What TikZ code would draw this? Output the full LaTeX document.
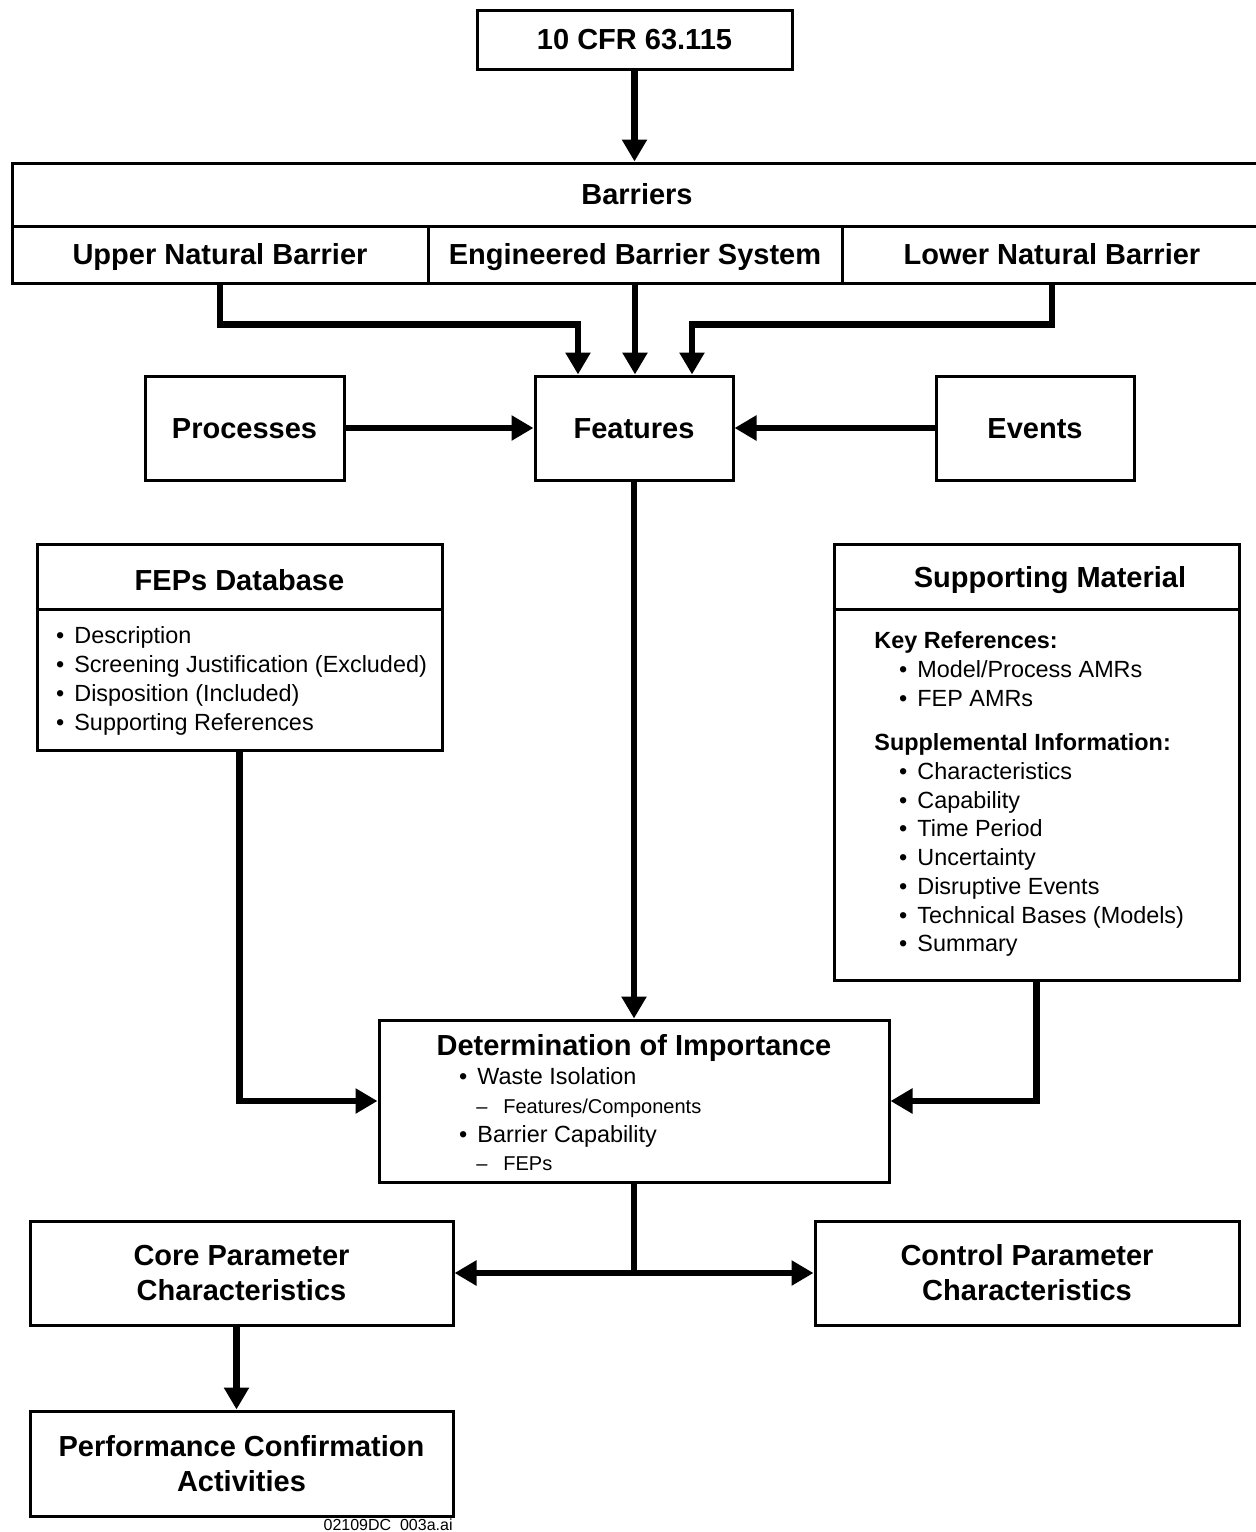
\documentclass[tikz,border=0pt]{standalone}
\usepackage{fontspec}
\setmainfont{Liberation Sans}
\usetikzlibrary{arrows.meta,calc}

\newcommand{\hdfont}{\bfseries\fontsize{14.5}{17.5}\selectfont}
\newcommand{\lstfont}{\fontsize{11.7}{14}\selectfont}
\newcommand{\sublstfont}{\fontsize{10}{12}\selectfont}

\begin{document}
\begin{tikzpicture}[x=0.5pt, y=-0.5pt, >={Triangle[length=11pt,width=12pt]},
        box/.style={draw, line width=1.5pt, inner sep=0pt, align=center, font=\hdfont},
        cell/.style={box, text height=10.4pt, text depth=0pt},
        head/.style={inner sep=0pt, anchor=base, font=\hdfont},
        item/.style={inner sep=0pt, anchor=base west, font=\lstfont},
        subitem/.style={inner sep=0pt, anchor=base west, font=\sublstfont},
        arr/.style={->, line width=3.2pt}]
        \useasboundingbox (0,0) rectangle (1256,1532);
        % top and barriers
        \node[cell, minimum width=157.5pt, minimum height=29.5pt] (cfr) at (634.5,39.5) {10 CFR 63.115};
        \node[cell, minimum width=625pt, minimum height=31.5pt] (barriers) at (637,194.5) {Barriers};
        \node[cell, minimum width=208pt, minimum height=28.5pt] (unb) at (220,254.5) {Upper Natural Barrier};
        \node[cell, minimum width=207pt, minimum height=28.5pt] (ebs) at (635,254.5) {Engineered Barrier System};
        \node[cell, minimum width=210pt, minimum height=28.5pt] (lnb) at (1052,254.5) {Lower Natural Barrier};
        % features, events, processes
        \node[cell, minimum width=99.5pt, minimum height=52pt] (proc) at (244.5,428) {Processes};
        \node[cell, minimum width=99pt, minimum height=52pt] (feat) at (634,428) {Features};
        \node[cell, minimum width=99pt, minimum height=52pt] (evt) at (1035,428) {Events};
        % FEPs database
        \node[box, minimum width=202.5pt, minimum height=103pt] (feps) at (239.5,647) {};
        \draw[line width=1.5pt] (feps.west |- 0,609) -- (feps.east |- 0,609);
        \node[head] (fepstitle) at (239.5,590) {FEPs Database};
        \foreach \t [count=\i from 0] in {Description, Screening Justification (Excluded), Disposition (Included), Supporting References}
            \node[item] (fepsi\i) at (74, 643+29*\i) {\llap{\textbullet\hspace{5pt}}\t};
        % supporting material
        \node[box, minimum width=202.5pt, minimum height=218pt] (supp) at (1036.5,762) {};
        \draw[line width=1.5pt] (supp.west |- 0,609) -- (supp.east |- 0,609);
        \node[head] (supptitle) at (1050,587) {Supporting Material};
        \node[item, font=\bfseries\lstfont] (keyref) at (874,648.5) {Key References:};
        \foreach \t [count=\i from 0] in {Model/Process AMRs, FEP AMRs}
            \node[item] (keyi\i) at (917, 677.5+29*\i) {\llap{\textbullet\hspace{5pt}}\t};
        \node[item, font=\bfseries\lstfont] (suppinfo) at (874,750.5) {Supplemental Information:};
        \foreach \t [count=\i from 0] in {Characteristics, Capability, Time Period, Uncertainty, Disruptive Events, Technical Bases (Models), Summary}
            \node[item] (supi\i) at (917, 779.5+28.7*\i) {\llap{\textbullet\hspace{5pt}}\t};
        % determination of importance
        \node[box, minimum width=255pt, minimum height=81pt] (doi) at (634,1101) {};
        \node[head] (doititle) at (634,1055) {Determination of Importance};
        \node[item] (doi1) at (477,1084.5) {\llap{\textbullet\hspace{5pt}}Waste Isolation};
        \node[subitem] (doi2) at (503,1113) {\llap{--\hspace{8pt}}Features/Components};
        \node[item] (doi3) at (477,1142.5) {\llap{\textbullet\hspace{5pt}}Barrier Capability};
        \node[subitem] (doi4) at (503,1170) {\llap{--\hspace{8pt}}FEPs};
        % parameter characteristics
        \node[box, minimum width=211.5pt, minimum height=52pt] (core) at (241.5,1273) {Core Parameter\\Characteristics};
        \node[box, minimum width=212pt, minimum height=52pt] (ctrl) at (1027,1273) {Control Parameter\\Characteristics};
        \node[box, minimum width=211.5pt, minimum height=52.5pt] (pca) at (241.5,1463.5) {Performance Confirmation\\Activities};
        \node[inner sep=0pt, anchor=base east, font=\fontsize{8}{9}\selectfont] (fileid) at (453,1530) {02109DC\ \ 003a.ai};
        % connectors
        \draw[arr] (cfr.south) -- (cfr.south |- barriers.north);
        \draw[arr] (unb.south) -- ++(0,40) -| ($(feat.north)+(-56,0)$);
        \draw[arr] (ebs.south) -- (ebs.south |- feat.north);
        \draw[arr] (lnb.south) -- ++(0,40) -| ($(feat.north)+(58,0)$);
        \draw[arr] (proc) -- (feat);
        \draw[arr] (evt) -- (feat);
        \draw[arr] (feat) -- (doi);
        \draw[arr] (feps.south) |- (doi.west);
        \draw[arr] (supp.south) |- (doi.east);
        \draw[line width=3.2pt] (doi.south) -- (doi.south |- core.east);
        \draw[arr, <->] (core) -- (ctrl);
        \draw[arr] ([xshift=-2.5pt]core.south) -- ([xshift=-2.5pt]pca.north);
\end{tikzpicture}
\end{document}
